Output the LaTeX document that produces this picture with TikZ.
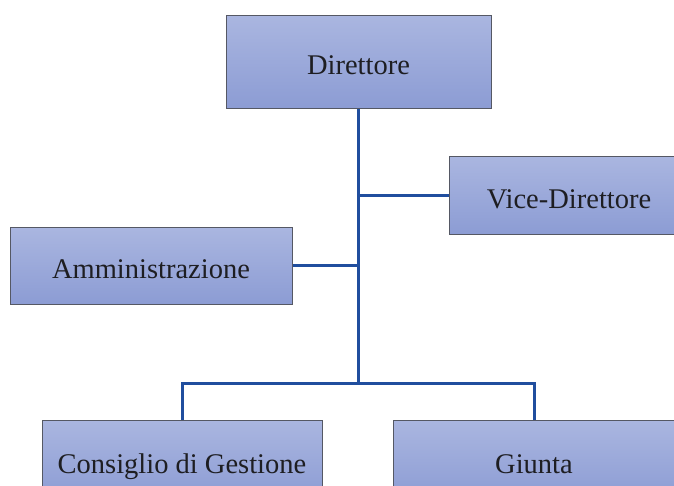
\documentclass[tikz,border=0pt]{standalone}
\usepackage{fontspec}
\setmainfont{Liberation Serif}
\definecolor{boxtop}{RGB}{170,182,224}
\definecolor{boxbot}{RGB}{140,156,212}
\definecolor{boxline}{RGB}{85,88,100}
\definecolor{connblue}{RGB}{32,78,158}
\definecolor{txt}{RGB}{30,30,34}
\begin{document}
\begin{tikzpicture}[x=1pt,y=-1pt,
  orgbox/.style={rectangle, draw=boxline, line width=1pt, top color=boxtop, bottom color=boxbot,
    font=\fontsize{28.5}{30}\selectfont, text=txt, text height=26pt, text depth=0pt, inner sep=0pt},
  conn/.style={draw=connblue, line width=3pt}]
\useasboundingbox (0,0) rectangle (674,485);
\fill[white] (0,0) rectangle (674,485);
\node[orgbox, minimum width=265pt, minimum height=93pt] (dir) at (358.5,61.5) {Direttore};
\node[orgbox, minimum width=240pt, minimum height=78pt] (vice) at (569,195) {Vice-Direttore};
\node[orgbox, minimum width=282pt, minimum height=77pt] (amm) at (151,265.5) {Amministrazione};
\node[orgbox, minimum width=280pt, minimum height=80pt] (cons) at (182,460) {Consiglio di Gestione};
\node[orgbox, minimum width=282pt, minimum height=80pt] (giunta) at (534,460) {Giunta};
\coordinate (bus) at (358.5,383);
\draw[conn] (dir.south) -- (bus);
\draw[conn] (vice.west) -| (dir.south);
\draw[conn] (amm.east) -| (dir.south);
\draw[conn] (cons.north) |- (bus);
\draw[conn] (giunta.north) |- (bus);
\end{tikzpicture}
\end{document}
